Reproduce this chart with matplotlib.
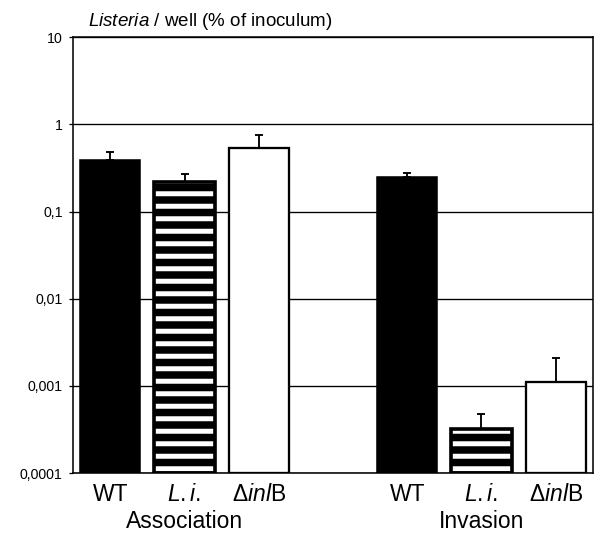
import numpy as np
import matplotlib
matplotlib.use('Agg')
import matplotlib.pyplot as plt

plt.rcParams['font.family'] = ['Liberation Sans', 'DejaVu Sans']
plt.rcParams['mathtext.fontset'] = 'custom'
plt.rcParams['mathtext.rm'] = 'Liberation Sans'
plt.rcParams['mathtext.it'] = 'Liberation Sans:italic'
plt.rcParams['mathtext.default'] = 'regular'
plt.rcParams['hatch.linewidth'] = 4.8

# data (% of inoculum)
groups = ['Association', 'Invasion']
strains = ['WT', r'$\mathit{L.i.}$', r'$\Delta\mathit{inl}$B']
assoc_mean = [0.39, 0.217, 0.54]
assoc_err = [0.09, 0.055, 0.21]
inv_mean = [0.25, 0.00032, 0.00112]
inv_err = [0.03, 0.000155, 0.00096]
yticks = [0.0001, 0.001, 0.01, 0.1, 1, 10]
ytick_labels = ['0,0001', '0,001', '0,01', '0,1', '1', '10']

means = assoc_mean + inv_mean
errs = assoc_err + inv_err
x = np.array([0, 1, 2, 4, 5, 6])
width = 0.81

# dpi 75 so that hatch '-' spacing matches the original stripes
fig = plt.figure(figsize=(8, 539 / 75), dpi=75)
ax = fig.add_axes([0.122, 0.1224, 0.866, 0.8086])
ax.set_yscale('log')
ax.set_ylim(0.0001, 10)
ax.set_xlim(-0.5, 6.5)

for yv in yticks:
    ax.axhline(yv, color='black', lw=1.3, zorder=0)

bottom = 0.0001
for i, (xi, m, e) in enumerate(zip(x, means, errs)):
    kind = i % 3
    ax.errorbar(xi, m, yerr=[[0], [e]], fmt='none', ecolor='black',
                elinewidth=1.8, capsize=4, capthick=1.8, zorder=2)
    if kind == 0:
        ax.bar(xi, m - bottom, width, bottom=bottom, color='black',
               edgecolor='black', lw=1.5, zorder=3)
    elif kind == 1:
        ax.bar(xi, m - bottom, width, bottom=bottom, color='black',
               edgecolor='white', hatch='-', lw=0, zorder=3)
        ax.bar(xi, m - bottom, width, bottom=bottom, color='none',
               edgecolor='black', lw=3.5, zorder=4)
    else:
        ax.bar(xi, m - bottom, width, bottom=bottom, color='white',
               edgecolor='black', lw=2.2, zorder=3)

ax.set_yticks(yticks)
ax.set_yticklabels(ytick_labels)
ax.yaxis.set_minor_locator(matplotlib.ticker.NullLocator())
ax.tick_params(axis='y', length=4, width=1.2, labelsize=13.5, pad=6)
ax.set_xticks(x)
ax.set_xticklabels(strains * 2)
ax.tick_params(axis='x', length=0, labelsize=22, pad=10)
for s in ax.spines.values():
    s.set_linewidth(1.5)

for gi, g in enumerate(groups):
    ax.text(x[gi * 3 + 1], -0.112, g, transform=ax.get_xaxis_transform(),
            ha='center', va='center', fontsize=22)

fig.text(88 / 600, 0.96, r'$\mathit{Listeria}$ / well (% of inoculum)',
         ha='left', va='center', fontsize=18)

fig.savefig('out.png', dpi=75)
